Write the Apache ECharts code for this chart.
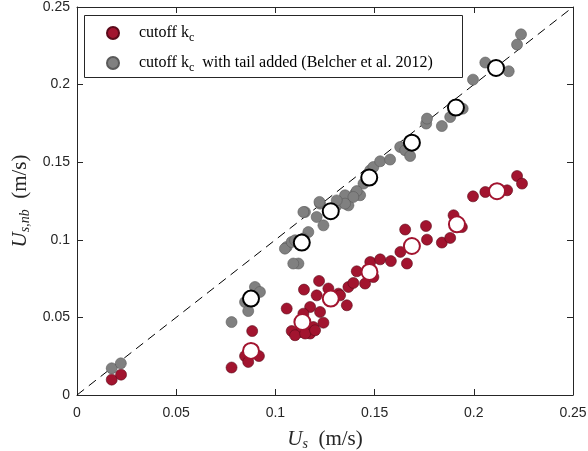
<!DOCTYPE html>
<html>
<head>
<meta charset="utf-8">
<script src="https://cdn.jsdelivr.net/npm/echarts@6/dist/echarts.min.js"></script>
<style>html,body{margin:0;padding:0;background:#fff;}#c{width:588px;height:451px;}</style>
</head>
<body>
<div id="c"></div>
<script>
// Filled markers: cutoff k_c (red)
const cutoffPoints = [
 [0.0175,0.0099],[0.0222,0.0131],[0.0779,0.0177],[0.0883,0.0412],[0.0847,0.0251],[0.0863,0.0213],
 [0.0917,0.0251],[0.1057,0.0557],[0.1144,0.0679],[0.1220,0.0735],[0.1208,0.0642],[0.1175,0.0567],
 [0.1225,0.0535],[0.1242,0.0466],[0.1191,0.0438],[0.1175,0.0396],[0.1124,0.0406],[0.1082,0.0412],
 [0.1099,0.0385],[0.1141,0.0524],[0.1150,0.0396],[0.1200,0.0417],[0.1267,0.0686],[0.1318,0.0653],
 [0.1360,0.0578],[0.1326,0.0642],[0.1368,0.0696],[0.1393,0.0722],[0.1410,0.0797],[0.1452,0.0718],
 [0.1494,0.0760],[0.1478,0.0857],[0.1528,0.0874],[0.1582,0.0863],[0.1630,0.0922],[0.1663,0.0847],
 [0.1654,0.1066],[0.1759,0.1089],[0.1764,0.1001],[0.1839,0.0982],[0.1881,0.1012],[0.1940,0.1082],
 [0.1898,0.1158],[0.1996,0.1280],[0.2058,0.1308],[0.2168,0.1319],[0.2218,0.1411],[0.2243,0.1362]
];
// Filled markers: cutoff k_c with tail added (gray)
const tailPoints = [
 [0.0175,0.0172],[0.0221,0.0204],[0.0779,0.0470],[0.0897,0.0696],[0.0922,0.0664],[0.0847,0.0599],
 [0.0863,0.0541],[0.1116,0.0847],[0.1090,0.0847],[0.1057,0.0954],[0.1048,0.0943],[0.1082,0.0986],
 [0.1099,0.0997],[0.1149,0.1179],[0.1166,0.1050],[0.1141,0.1008],[0.1208,0.1147],[0.1225,0.1233],
 [0.1242,0.1093],[0.1309,0.1222],[0.1351,0.1287],[0.1368,0.1222],[0.1402,0.1298],[0.1427,0.1287],
 [0.1444,0.1362],[0.1410,0.1314],[0.1393,0.1276],[0.1351,0.1233],[0.1309,0.1254],[0.1222,0.1244],
 [0.1141,0.1179],[0.1478,0.1448],[0.1494,0.1469],[0.1528,0.1506],[0.1578,0.1517],[0.1629,0.1598],
 [0.1654,0.1577],[0.1679,0.1540],[0.1760,0.1749],[0.1764,0.1781],[0.1839,0.1733],[0.1881,0.1791],
 [0.1944,0.1845],[0.1996,0.2032],[0.2058,0.2142],[0.2176,0.2086],[0.2218,0.2258],[0.2238,0.2324]
];
// Open markers: bin means
const cutoffMeans = [[0.0877,0.0284],[0.1136,0.0470],[0.1279,0.0621],[0.1474,0.0793],[0.1688,0.0960],[0.1915,0.1100],[0.2117,0.1313]];
const tailMeans = [[0.0877,0.0621],[0.1133,0.0982],[0.1279,0.1184],[0.1473,0.1401],[0.1688,0.1626],[0.1910,0.1852],[0.2112,0.2107]];
const oneToOne = [[0,0],[0.25,0.25]];
const tickValues = [0, 0.05, 0.1, 0.15, 0.2, 0.25];

const RED = '#A2142F', GRAY = '#808080';
const SERIF = '"Liberation Serif", "DejaVu Serif", serif';
const SANS = '"Liberation Sans", Arial, sans-serif';
const tickFmt = v => String(+v.toFixed(2));
const axisBase = {
  type: 'value', min: 0, max: 0.25, interval: 0.05,
  axisLine: { show: true, onZero: false, lineStyle: { color: '#262626', width: 1 } },
  axisTick: { show: true, inside: true, length: 6, lineStyle: { color: '#262626' } },
  splitLine: { show: false }
};
const nameRich = {
  i: { fontFamily: SERIF, fontStyle: 'italic', fontSize: 21, color: '#262626' },
  s: { fontFamily: SERIF, fontStyle: 'italic', fontSize: 14, color: '#262626', padding: [9, 0, 0, 0] },
  n: { fontFamily: SERIF, fontSize: 21, color: '#262626' }
};
const subRich = {
  t: { fontFamily: SERIF, fontSize: 16, color: '#000' },
  s: { fontFamily: SERIF, fontSize: 12, color: '#000', padding: [10, 0, 0, 0] },
  g: { width: 15 }
};
const chart = echarts.init(document.getElementById('c'), null, { renderer: 'canvas' });
chart.setOption({
  animation: false,
  backgroundColor: '#fff',
  grid: { left: 77, right: 15, top: 7, bottom: 56, containLabel: false, outerBoundsMode: 'none' },
  xAxis: [
    Object.assign({}, axisBase, {
      position: 'bottom',
      axisLabel: { formatter: tickFmt, fontFamily: SANS, fontSize: 14, color: '#262626', margin: 11 },
      name: '{i|U}{s|s}{n|  (m/s)}', nameLocation: 'middle', nameGap: 33,
      nameTextStyle: { rich: nameRich }
    }),
    Object.assign({}, axisBase, { position: 'top', axisLabel: { show: false } })
  ],
  yAxis: [
    Object.assign({}, axisBase, {
      position: 'left',
      axisLabel: { formatter: tickFmt, fontFamily: SANS, fontSize: 14, color: '#262626', margin: 7 },
      name: '{i|U}{s|s,nb}{n|  (m/s)}', nameLocation: 'middle', nameGap: 42, nameRotate: 90,
      nameTextStyle: { rich: nameRich }
    }),
    Object.assign({}, axisBase, { position: 'right', axisLabel: { show: false } })
  ],
  legend: {
    data: ['cutoff', 'tail'],
    orient: 'vertical', left: 101, top: 20, itemGap: 11,
    icon: 'circle', itemWidth: 12, itemHeight: 12,
    formatter: n => n === 'cutoff' ? '{g|}{t|cutoff k}{s|c}' : '{g|}{t|cutoff k}{s|c}{t|  with tail added (Belcher et al. 2012)}',
    textStyle: { rich: subRich, fontFamily: SERIF, fontSize: 16 }
  },
  graphic: [{
    type: 'rect', left: 84, top: 15, z: 0,
    shape: { width: 378, height: 62 },
    style: { fill: '#fff', stroke: '#262626', lineWidth: 1 }
  }],
  series: [
    { type: 'line', data: oneToOne, symbol: 'none', silent: true, z: 1,
      lineStyle: { color: '#000', width: 1, type: [9, 6] } },
    { name: 'tail', type: 'scatter', data: tailPoints, symbolSize: 11, z: 2,
      itemStyle: { color: GRAY, borderColor: '#5a5a5a', borderWidth: 0.6, opacity: 1 } },
    { name: 'cutoff', type: 'scatter', data: cutoffPoints, symbolSize: 11, z: 2,
      itemStyle: { color: RED, borderColor: '#5a0a1a', borderWidth: 0.6, opacity: 1 } },
    { name: 'tailMean', type: 'scatter', data: tailMeans, symbolSize: 16, z: 3,
      itemStyle: { color: '#fff', borderColor: '#000', borderWidth: 2, opacity: 1 } },
    { name: 'cutoffMean', type: 'scatter', data: cutoffMeans, symbolSize: 16, z: 3,
      itemStyle: { color: '#fff', borderColor: RED, borderWidth: 2, opacity: 1 } }
  ]
});
</script>
</body>
</html>
